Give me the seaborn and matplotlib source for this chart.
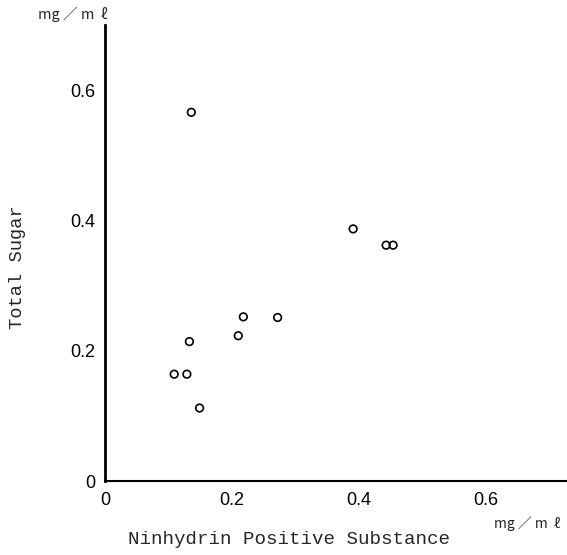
import matplotlib
matplotlib.use("Agg")
import matplotlib.pyplot as plt
import seaborn as sns
import pandas as pd

# Data
ninhydrin = [0.136, 0.109, 0.129, 0.133, 0.149, 0.210, 0.218, 0.272, 0.391, 0.443, 0.454]
total_sugar = [0.566, 0.164, 0.164, 0.214, 0.112, 0.223, 0.252, 0.251, 0.387, 0.362, 0.362]
tick_vals = [0, 0.2, 0.4, 0.6]
tick_labels = ["0", "0.2", "0.4", "0.6"]
x_title = "Ninhydrin Positive Substance"
y_title = "Total Sugar"
unit = "mg \uff0f m  \u2113"

sns.set_theme(style="white")
plt.rcParams['font.family'] = ['Liberation Sans', 'DejaVu Sans']

df = pd.DataFrame({"x": ninhydrin, "y": total_sugar})

W, H = 567, 555
fig = plt.figure(figsize=(W / 100, H / 100), dpi=100)
ax = fig.add_axes([105 / W, (H - 481) / H, (W - 105) / W, (481 - 25) / H])

sns.scatterplot(data=df, x="x", y="y", ax=ax, marker="o", s=30,
                facecolor="none", edgecolor="black", linewidth=1.2, legend=False)

ax.set_xlim(0, 0.728)
ax.set_ylim(0, 0.70)
ax.set_xticks(tick_vals)
ax.set_xticklabels(tick_labels)
ax.set_yticks(tick_vals)
ax.set_yticklabels(tick_labels)
ax.tick_params(direction="in", length=4, width=1.5, colors="black",
               labelsize=13, pad=7)
ax.tick_params(axis="x", pad=8)
ax.set_xlabel("")
ax.set_ylabel("")
for s in ["top", "right"]:
    ax.spines[s].set_visible(False)
ax.spines["left"].set_linewidth(2.0)
ax.spines["bottom"].set_linewidth(1.5)
ax.spines["left"].set_color("black")
ax.spines["bottom"].set_color("black")

mono = ['Liberation Mono', 'DejaVu Sans Mono']
fig.text(128 / W, 1 - 540 / H, x_title, ha="left", va="center",
         fontsize=13.8, family=mono)
fig.text(18 / W, 1 - 267 / H, y_title, ha="center", va="center",
         rotation=90, fontsize=13.5, family=mono)
unit_font = ['Noto Sans CJK JP', 'DejaVu Sans']
fig.text(38 / W, 1 - 14 / H, unit, ha="left", va="center",
         fontsize=10.5, family=unit_font)
fig.text(494 / W, 1 - 524 / H, unit, ha="left", va="center",
         fontsize=10, family=unit_font)

fig.savefig("out.png", dpi=100)
